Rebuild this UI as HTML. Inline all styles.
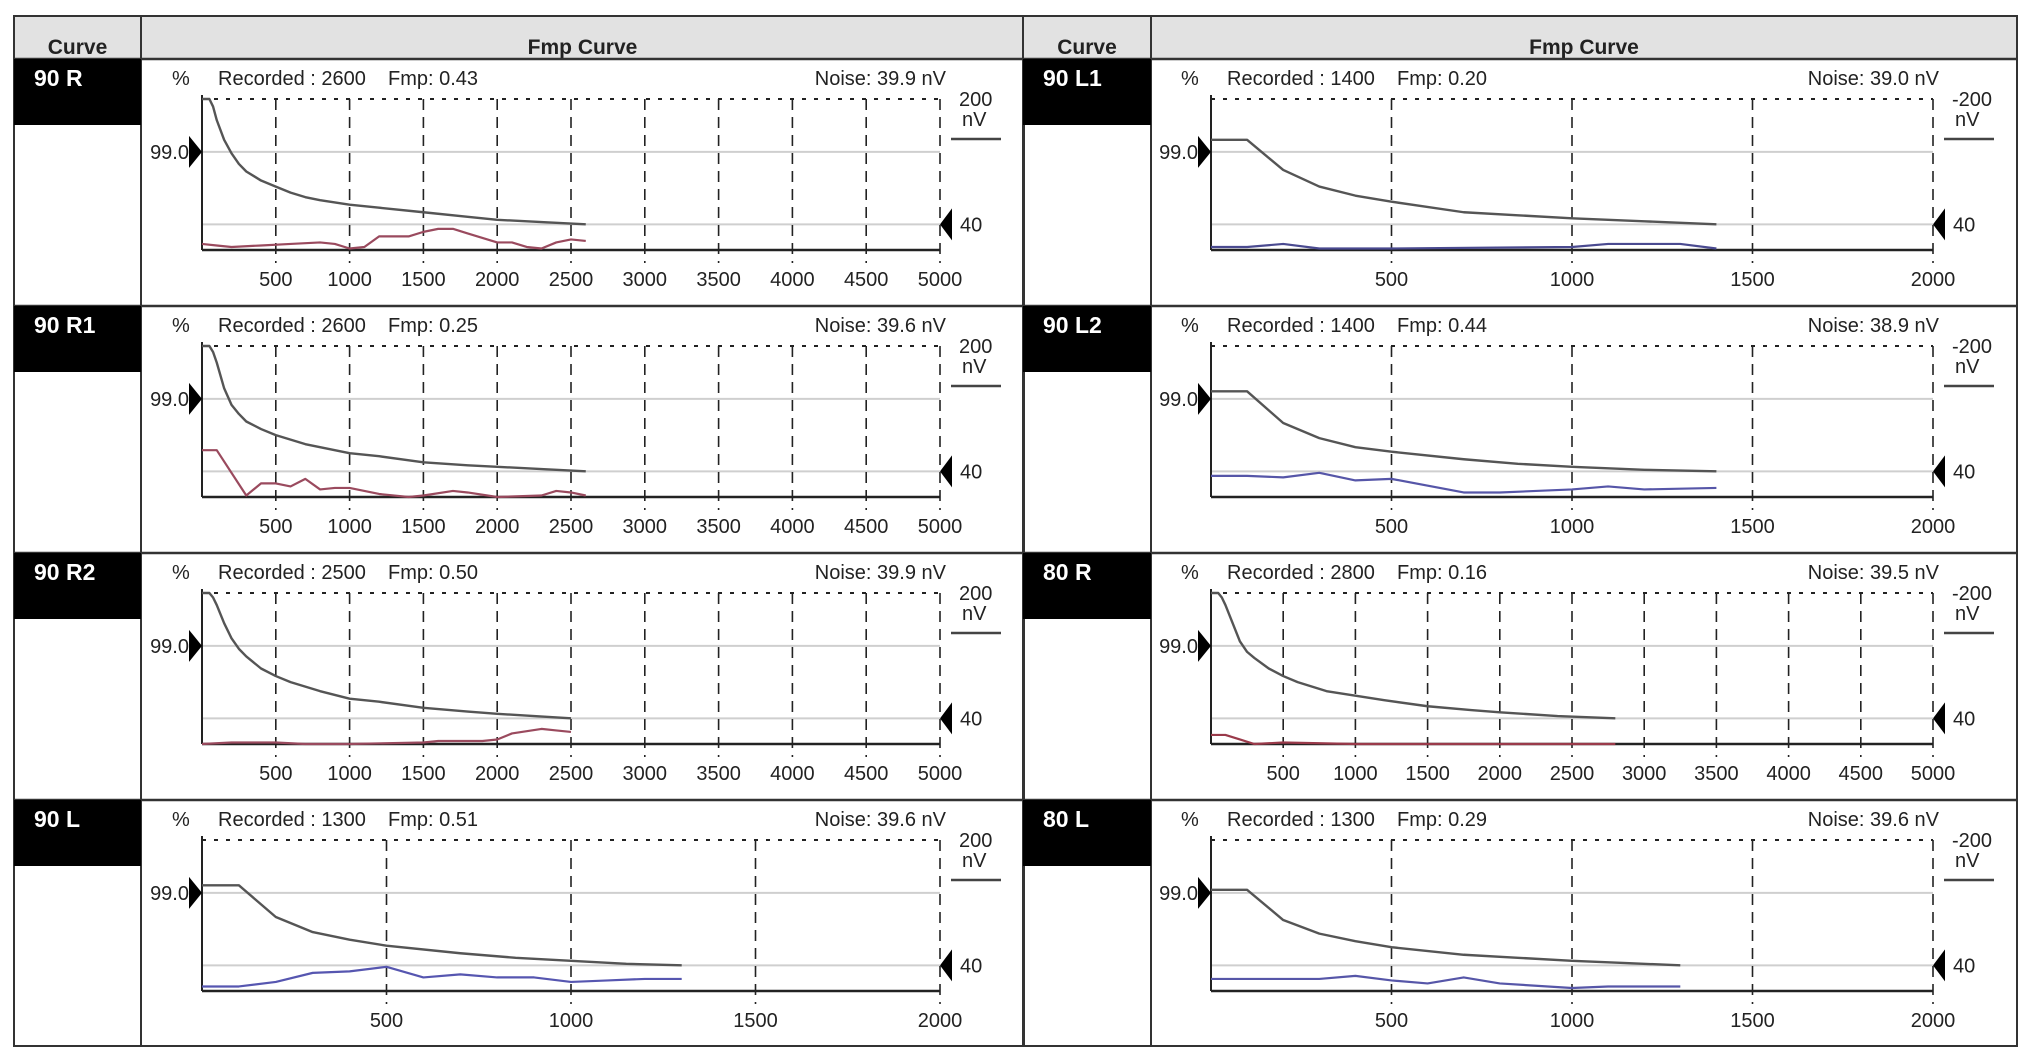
<!DOCTYPE html>
<html><head><meta charset="utf-8"><style>
html,body{margin:0;padding:0;background:#fff;}
svg{display:block;font-family:"Liberation Sans",sans-serif;}
</style></head><body>
<svg id="chart" width="2032" height="1061" viewBox="0 0 2032 1061"></svg>
<script>
// ---- data (x in sweeps, y in % of plot height: 0 = bottom, 100 = top) ----
const panelLabels = ["90 R","90 R1","90 R2","90 L","90 L1","90 L2","80 R","80 L"];
const recordedVals = ["2600","2600","2500","1300","1400","1400","2800","1300"];
const fmpVals = ["0.43","0.25","0.50","0.51","0.20","0.44","0.16","0.29"];
const noiseVals = ["39.9","39.6","39.9","39.6","39.0","38.9","39.5","39.6"];
const xMaxVals = [5000,5000,5000,2000,2000,2000,5000,2000];
const ticks5000 = [500,1000,1500,2000,2500,3000,3500,4000,4500,5000];
const ticks2000 = [500,1000,1500,2000];

const grayX_90R = [0,50,75,100,150,200,250,300,400,500,600,700,800,1000,1200,1500,1800,2000,2300,2600];
const grayY_90R = [100,100,95,86,73,64,57,52,46,42,38,35,33,30,28,25,22,20,18.5,17];
const noiseX_90R = [0,100,200,400,600,800,900,1000,1100,1200,1400,1500,1600,1700,1800,2000,2100,2200,2300,2400,2500,2600];
const noiseY_90R = [4,3,2,3,4,5,4,1,2,9,9,12,14,14,11,5,5,2,1,5,7,6];

const grayX_90R1 = [0,50,75,100,150,200,250,300,400,500,600,700,800,1000,1200,1500,1800,2000,2300,2600];
const grayY_90R1 = [100,100,96,89,72,61,55,50,45,41,38,35,33,29,27,23,21,20,18.5,17];
const noiseX_90R1 = [0,100,300,400,500,600,700,800,900,1000,1200,1400,1500,1700,1800,2000,2300,2400,2500,2600];
const noiseY_90R1 = [31,31,1,9,9,7,12,5,6,6,2,0,1,4,3,0,1,4,3,1];

const grayX_90R2 = [0,50,75,100,150,200,250,300,400,500,600,700,800,1000,1200,1500,1800,2000,2250,2500];
const grayY_90R2 = [100,100,97,92,80,70,63,58,50,45,41,38,35,30,28,24,21.5,20,18.5,17];
const noiseX_90R2 = [0,200,500,700,1000,1500,1600,1900,2000,2100,2300,2400,2500];
const noiseY_90R2 = [0,1,1,0,0,1,2,2,3,7,10,9,8];

const grayX_90L = [0,100,200,300,400,500,700,850,1000,1150,1300];
const grayY_90L = [70,70,49,39,34,30,25,22,20,18,17];
const noiseX_90L = [0,100,200,300,400,500,600,700,800,900,1000,1100,1200,1300];
const noiseY_90L = [3,3,6,12,13,16,9,11,9,9,6,7,8,8];

const grayX_90L1 = [0,100,200,300,400,500,700,850,1000,1200,1400];
const grayY_90L1 = [73,73,53,42,36,32,25,23,21,19,17];
const noiseX_90L1 = [0,100,200,300,500,1000,1100,1300,1400];
const noiseY_90L1 = [2,2,4,1,1,2,4,4,1];

const grayX_90L2 = [0,100,200,300,400,500,700,850,1000,1200,1400];
const grayY_90L2 = [70,70,49,39,33,30,25,22,20,18,17];
const noiseX_90L2 = [0,100,200,300,400,500,700,800,1000,1100,1200,1400];
const noiseY_90L2 = [14,14,13,16,11,12,3,3,5,7,5,6];

const grayX_80R = [0,50,75,100,150,200,250,300,400,500,600,700,800,1000,1200,1500,1800,2000,2400,2800];
const grayY_80R = [100,100,97,92,80,68,61,57,50,45,41,38,35,32,29,25,22.5,21,18.5,17];
const noiseX_80R = [0,100,200,300,500,1000,2000,2800];
const noiseY_80R = [6,6,3,0,1,0,0,0];

const grayX_80L = [0,100,200,300,400,500,700,850,1000,1150,1300];
const grayY_80L = [67,67,47,38,33,29,24,22,20,18.5,17];
const noiseX_80L = [0,100,300,400,500,600,700,800,1000,1100,1300];
const noiseY_80L = [8,8,8,10,7,5,9,5,2,3,3];

const grayXs = [grayX_90R,grayX_90R1,grayX_90R2,grayX_90L,grayX_90L1,grayX_90L2,grayX_80R,grayX_80L];
const grayYs = [grayY_90R,grayY_90R1,grayY_90R2,grayY_90L,grayY_90L1,grayY_90L2,grayY_80R,grayY_80L];
const noiseXs = [noiseX_90R,noiseX_90R1,noiseX_90R2,noiseX_90L,noiseX_90L1,noiseX_90L2,noiseX_80R,noiseX_80L];
const noiseYs = [noiseY_90R,noiseY_90R1,noiseY_90R2,noiseY_90L,noiseY_90L1,noiseY_90L2,noiseY_80R,noiseY_80L];
const noiseColors = ["#9a4a5e","#9a4a5e","#9a4a5e","#5656b0","#4a4a90","#5656a8","#9a3a4a","#5656a8"];
const ref99 = 65, ref40 = 17;

// ---- drawing ----
const NS = "http://www.w3.org/2000/svg";
const svg = document.getElementById("chart");
function mk(tag, attrs, parent, text){
  const e = document.createElementNS(NS, tag);
  for (const k in attrs) e.setAttribute(k, attrs[k]);
  if (text !== undefined) e.textContent = text;
  (parent || svg).appendChild(e);
  return e;
}
const rowTops = [59,306,553,800];
const tableBottom = 1046;
const cols = [
  {x0:14, cx:141, x1:1024, pl:202, pr:940},
  {x0:1023, cx:1151, x1:2017, pl:1211, pr:1933}
];

cols.forEach((c, ci) => {
  const g = mk("g", {});
  
  
  const hd = mk("rect", {x:c.x0, y:16, width:c.x1-c.x0, height:43, fill:"#e2e2e2"}, g);
  
  
  const t1 = mk("text", {x:(c.x0+c.cx)/2, y:54, "text-anchor":"middle", "font-size":"21", "font-weight":"bold", fill:"#222"}, g, "Curve");
  
  
  const t2 = mk("text", {x:(c.cx+c.x1)/2, y:54, "text-anchor":"middle", "font-size":"21", "font-weight":"bold", fill:"#222"}, g, "Fmp Curve");
  
  
  mk("rect", {x:c.x0, y:16, width:c.x1-c.x0, height:tableBottom-16, fill:"none", stroke:"#333", "stroke-width":2}, g);
  mk("line", {x1:c.x0, x2:c.x1, y1:59, y2:59, stroke:"#333", "stroke-width":2.5}, g);
  mk("line", {x1:c.cx, x2:c.cx, y1:16, y2:tableBottom, stroke:"#333", "stroke-width":2}, g);
  rowTops.slice(1).forEach(y => mk("line", {x1:c.x0, x2:c.x1, y1:y, y2:y, stroke:"#333", "stroke-width":2.5}, g));
});

for (let i = 0; i < 8; i++) {
  const c = cols[i < 4 ? 0 : 1];
  const rt = rowTops[i % 4];
  const pl = c.pl, pr = c.pr, top = rt + 40, bot = rt + 191;
  const xMax = xMaxVals[i];
  const xs = v => pl + (pr - pl) * v / xMax;
  const ys = v => bot - (bot - top) * v / 100;
  const g = mk("g", {});
  
  

  const lb = mk("rect", {x:c.x0, y:rt, width:c.cx-c.x0, height:66, fill:"#000"}, g);
  
  
  const lt = mk("text", {x:c.x0+20, y:rt+27, "font-size":"23", "font-weight":"bold", fill:"#fff"}, g, panelLabels[i]);
  
  

  const pc = mk("text", {x:pl-30, y:rt+26, "font-size":"20", fill:"#222"}, g, "%");
  
  
  const rec = mk("text", {x:pl+16, y:rt+26, "font-size":"20", fill:"#222"}, g, "Recorded : " + recordedVals[i]);
  
  
  const fm = mk("text", {x:pl+186, y:rt+26, "font-size":"20", fill:"#222"}, g, "Fmp: " + fmpVals[i]);
  
  
  const nz = mk("text", {x:pr+6, y:rt+26, "text-anchor":"end", "font-size":"20", fill:"#222"}, g, "Noise: " + noiseVals[i] + " nV");
  
  

  const r1 = mk("line", {x1:pl, x2:pr, y1:ys(ref99), y2:ys(ref99), stroke:"#cfcfcf", "stroke-width":2}, g);
  
  
  const r2 = mk("line", {x1:pl, x2:pr, y1:ys(ref40), y2:ys(ref40), stroke:"#cfcfcf", "stroke-width":2}, g);
  
  

  mk("line", {x1:pl, x2:pr, y1:top, y2:top, stroke:"#222", "stroke-width":2, "stroke-dasharray":"4 8"}, g);
  const tks = xMax === 5000 ? ticks5000 : ticks2000;
  tks.forEach(t => {
    const gl = mk("line", {x1:xs(t), x2:xs(t), y1:top, y2:bot+13, stroke:"#222", "stroke-width":1.6, "stroke-dasharray":"11 7"}, g);
    
    
    const tl = mk("text", {x:xs(t), y:bot+36, "text-anchor":"middle", "font-size":"20", fill:"#222"}, g, String(t));
    
    
  });
  mk("line", {x1:pl, x2:pl, y1:top-4, y2:bot, stroke:"#222", "stroke-width":2}, g);
  const ax = mk("line", {x1:pl, x2:pr, y1:bot, y2:bot, stroke:"#222", "stroke-width":2.5}, g);
  
  

  const y99 = ys(ref99), y40 = ys(ref40);
  const m1 = mk("polygon", {points:`${pl-13},${y99-16} ${pl},${y99} ${pl-13},${y99+16}`, fill:"#000"}, g);
  
  
  mk("text", {x:pl-13, y:y99+7, "text-anchor":"end", "font-size":"20", fill:"#222"}, g, "99.0");
  const m2 = mk("polygon", {points:`${pr+12},${y40-16} ${pr},${y40} ${pr+12},${y40+16}`, fill:"#000"}, g);
  
  
  mk("text", {x:pr+20, y:y40+7, "font-size":"20", fill:"#222"}, g, "40");
  mk("text", {x:pr+19, y:top+7, "font-size":"20", fill:"#222"}, g, i < 4 ? "200" : "-200");
  mk("text", {x:pr+22, y:top+27, "font-size":"20", fill:"#222"}, g, "nV");
  const lgl = mk("line", {x1:pr+11, x2:pr+61, y1:top+40, y2:top+40, stroke:"#444", "stroke-width":2.5}, g);
  
  

  const gx = grayXs[i], gy = grayYs[i];
  const gp = mk("polyline", {points:gx.map((x,k)=>xs(x)+","+ys(gy[k])).join(" "), fill:"none", stroke:"#555", "stroke-width":2.4, "stroke-linejoin":"round"}, g);
  
  
  const nx = noiseXs[i], ny = noiseYs[i];
  const np = mk("polyline", {points:nx.map((x,k)=>xs(x)+","+ys(ny[k])).join(" "), fill:"none", stroke:noiseColors[i], "stroke-width":2.2, "stroke-linejoin":"round"}, g);
  
  
}
</script>
</body></html>
